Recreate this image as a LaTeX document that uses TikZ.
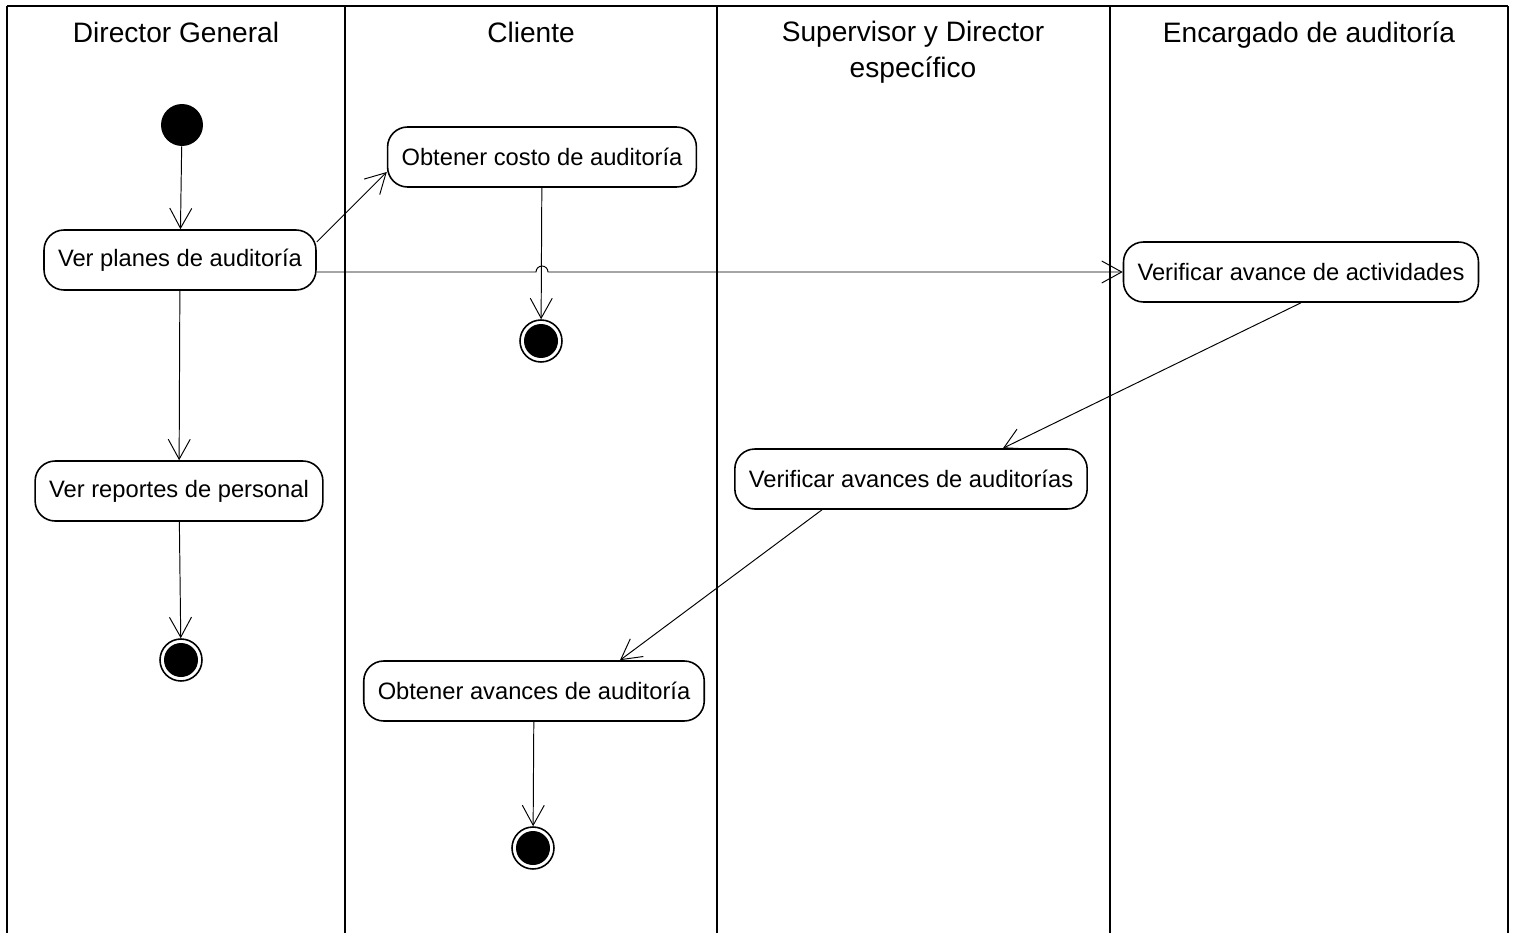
\documentclass[tikz,border=0pt]{standalone}
\usepackage{fontspec}
\setmainfont{Liberation Sans}
\usetikzlibrary{arrows.meta, positioning}

\begin{document}
\begin{tikzpicture}[
    x=0.02cm, y=-0.02cm,
    lane/.style={line width=1.1pt},
    head/.style={align=center, font=\fontsize{16}{20.4}\selectfont},
    act/.style={rectangle, rounded corners=0.4cm, draw, line width=0.9pt, minimum height=1.2cm, inner xsep=0.28cm, font=\fontsize{13.5}{16}\selectfont},
    startdot/.style={circle, fill=black, minimum size=0.84cm, inner sep=0pt},
    enddot/.style={circle, draw, line width=0.9pt, minimum size=0.84cm, inner sep=0pt, path picture={\fill (path picture bounding box.center) circle (0.34cm);}},
    arrow/.style={-{Straight Barb[length=0.4cm, width=0.44cm]}, line width=0.55pt}
]
\useasboundingbox (0,0) rectangle (1515,933);

% swimlanes
\draw[lane] (7,6) -- (1508,6);
\foreach \x in {7,345,717,1110,1508}{\draw[lane] (\x,6) -- (\x,933);}

\node[head, anchor=base] (h1) at (176,42) {Director General};
\node[head, anchor=base] (h2) at (531,42) {Cliente};
\node[head] (h3) at (913,52) {Supervisor y Director\\espec\'ifico};
\node[head, anchor=base] (h4) at (1309,42) {Encargado de auditor\'ia};

% actividades
\node[startdot] (ini) at (182,125) {};
\node[act] (planes) at (180,260) {Ver planes de auditor\'ia};
\node[act] (costo) at (542,157) {Obtener costo de auditor\'ia};
\node[enddot] (fin1) at (541,341) {};
\node[act] (activ) at (1301,272) {Verificar avance de actividades};
\node[act] (avaud) at (911,479) {Verificar avances de auditor\'ias};
\node[act] (report) at (179,491) {Ver reportes de personal};
\node[enddot] (fin2) at (181,660) {};
\node[act] (obtav) at (534,691) {Obtener avances de auditor\'ia};
\node[enddot] (fin3) at (533,848) {};

\foreach \i/\j in {ini/planes,planes/report,report/fin2,costo/fin1,obtav/fin3}{\draw[arrow] (\i) -- (\j);}

\draw[arrow] ([yshift=0.36cm]planes.east) -- ([yshift=-0.3cm]costo.west);
\coordinate (jmp) at (costo.south |- activ.west);
\draw[arrow] ([yshift=-0.24cm]planes.east) -- ([xshift=-0.12cm]jmp) arc[start angle=180, end angle=0, radius=0.12cm] -- (activ.west);
\draw[arrow] (activ.south) -- ([xshift=1.84cm]avaud.north);
\draw[arrow] ([xshift=-1.78cm]avaud.south) -- ([xshift=1.72cm]obtav.north);

\end{tikzpicture}
\end{document}
